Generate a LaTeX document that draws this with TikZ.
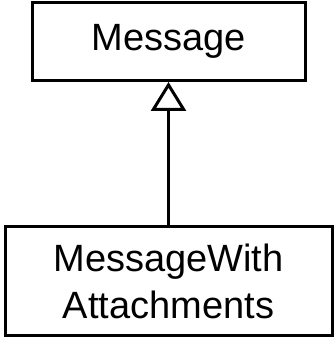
\documentclass[tikz,border=0pt]{standalone}
\usepackage{fontspec}
\setmainfont{Liberation Sans}
\usetikzlibrary{arrows.meta,positioning}

\begin{document}
\begin{tikzpicture}[
  x=1pt, y=1pt,
  classbox/.style={draw, line width=3pt, align=center, inner sep=0pt,
                   font=\fontsize{38}{47}\selectfont},
  inherit/.style={-{Triangle[open, length=29pt, width=35pt]}, line width=3pt}
]
  \useasboundingbox (0,0) rectangle (335,338);
  \node[classbox, minimum width=273pt, minimum height=78pt] (msg) at (168.5,296.5) {Message};
  \node[classbox, minimum width=327pt, minimum height=109pt,
        below=143pt of msg] (attach) {MessageWith\\Attachments};

  \draw[inherit] (attach) -- (msg);
\end{tikzpicture}
\end{document}
